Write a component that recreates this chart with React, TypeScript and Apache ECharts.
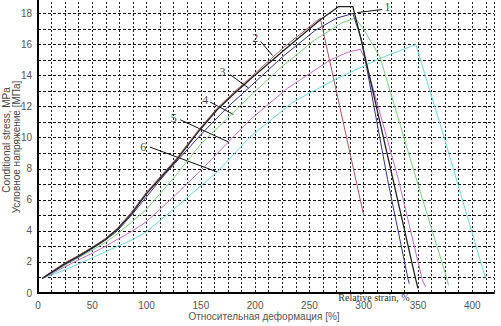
import React, { useEffect, useRef } from "react";
import * as echarts from "echarts";

// strain (%) , stress (MPa)
const curve1: number[][] = [[4,0.95],[15,1.45],[25,1.9],[38,2.4],[51,2.95],[62,3.45],[73,4.1],[86,5.1],[100,6.4],[114,7.5],[128,8.6],[149,10.5],[165,11.8],[180,12.8],[196,13.8],[226,15.6],[260,17.6],[277,18.45],[290,18.45],[297,16.5],[327,7.3],[348,0.84],[350,0.3]];
const curve2: number[][] = [[4,0.95],[15,1.5],[25,1.95],[38,2.45],[51,3.0],[62,3.5],[73,4.15],[86,5.2],[100,6.5],[114,7.6],[128,8.7],[149,10.6],[165,11.9],[180,12.9],[196,13.9],[226,15.8],[260,17.7],[300,5.0]];
const curve3: number[][] = [[4,0.95],[15,1.4],[25,1.85],[38,2.35],[51,2.9],[62,3.4],[73,4.0],[86,5.0],[100,6.2],[114,7.4],[128,8.5],[150,10.2],[175,12.0],[194,13.2],[225,15.2],[255,16.9],[275,17.7],[290,18.0],[298,16.3],[322,7.3],[341,0.84],[342,0.6]];
const curve4: number[][] = [[4,0.95],[15,1.38],[25,1.8],[38,2.3],[51,2.8],[62,3.25],[73,3.8],[86,4.55],[100,5.4],[125,7.4],[150,9.6],[178,11.5],[194,12.6],[225,14.6],[255,16.3],[280,17.4],[292,17.7],[299,17.1],[315,15.2],[343,8.6],[377,0.84],[378,0.5]];
const curve5: number[][] = [[4,0.95],[15,1.32],[25,1.7],[38,2.15],[51,2.6],[62,3.0],[73,3.45],[86,3.95],[100,4.6],[125,6.2],[150,7.9],[175,9.7],[196,11.2],[230,13.2],[269,15.0],[285,15.5],[297,15.7],[301,15.1],[332,7.3],[354,0.84],[357,0.4]];
const curve6: number[][] = [[4,0.95],[15,1.22],[25,1.5],[38,1.9],[51,2.3],[62,2.65],[73,3.0],[86,3.4],[100,3.95],[125,5.4],[150,6.9],[165,7.8],[196,10.1],[235,12.3],[272,13.7],[318,15.2],[348,16.0],[372,10.5],[412,1.0]];

const curves = [curve1, curve2, curve3, curve4, curve5, curve6];
const curveNames = ["1", "2", "3", "4", "5", "6"];
const curveColors = ["#222222", "#a85a5a", "#34347e", "#7ccf7c", "#c46cc8", "#6fd8d8"];

// annotation label positions [x, y, text] and leader lines
const labelPoints: (number | string)[][] = [[322,18.39,"1"],[200,16.45,"2"],[170,14.26,"3"],[154,12.45,"4"],[125,11.3,"5"],[97,9.4,"6"]];
const leaderStart: number[][] = [[317,18.26],[205,16.2],[177,14.06],[158.5,12.3],[131,11.16],[103,9.4]];
const leaderEnd: number[][] = [[294,18.06],[216,15.3],[194,13.2],[180,11.5],[175,9.74],[165,7.8]];

const xTicks = [0, 50, 100, 150, 200, 250, 300, 350, 400];
const yTicks = [0, 2, 4, 6, 8, 10, 12, 14, 16, 18];

export default function App() {
  const ref = useRef<HTMLDivElement>(null);
  useEffect(() => {
    if (!ref.current) return;
    const chart = echarts.init(ref.current, null, { renderer: "svg" });
    const series: any[] = curves.map((c, i) => ({
      type: "line",
      name: curveNames[i],
      data: c,
      showSymbol: false,
      symbol: "none",
      lineStyle: { color: curveColors[i], width: i === 0 ? 1.3 : 1 },
      z: 10 - i,
    }));
    series.push({
      type: "line",
      data: [],
      markLine: {
        silent: true,
        symbol: ["none", "none"],
        label: { show: false },
        lineStyle: { color: "#111", width: 1, type: "solid" },
        data: leaderStart.map((s, i) => [{ coord: s }, { coord: leaderEnd[i] }]),
      },
    });
    series.push({
      type: "scatter",
      data: labelPoints,
      symbolSize: 0,
      label: {
        show: true,
        position: "inside",
        formatter: (p: any) => p.data[2],
        color: "#111",
        fontFamily: "Liberation Serif",
        fontSize: 12,
      },
      z: 20,
    });
    chart.setOption({
      animation: false,
      backgroundColor: "#fff",
      grid: { left: 38, right: 7, top: -2, bottom: 33, containLabel: false, outerBoundsMode: "none" },
      xAxis: {
        type: "value",
        min: 0,
        max: 420,
        interval: 12.5,
        offset: 2,
        axisLine: { show: true, lineStyle: { color: "#000", width: 2 } },
        axisTick: { show: false },
        axisLabel: {
          margin: 5,
          fontSize: 10,
          fontFamily: "Liberation Sans",
          color: "#555",
          formatter: (v: number) => (xTicks.includes(v) ? String(v) : ""),
        },
        splitLine: { show: true, lineStyle: { color: "#222", type: [2, 2], width: 1 } },
      },
      yAxis: {
        type: "value",
        min: 0,
        max: 19,
        interval: 1,
        offset: 3,
        axisLine: { show: true, lineStyle: { color: "#000", width: 2 } },
        axisTick: { show: false },
        axisLabel: {
          margin: 3,
          fontSize: 10,
          fontFamily: "Liberation Sans",
          color: "#555",
          formatter: (v: number) => (yTicks.includes(v) ? String(v) : ""),
        },
        splitLine: { show: true, lineStyle: { color: "#111", type: [3, 2], width: 1 } },
      },
      graphic: [
        {
          type: "text",
          x: 6,
          y: 140,
          rotation: Math.PI / 2,
          style: {
            text: "Conditional stress, MPa",
            fontSize: 10,
            fontFamily: "Liberation Sans",
            fill: "#444",
            textAlign: "center",
            textVerticalAlign: "middle",
          },
        },
        {
          type: "text",
          x: 16,
          y: 147,
          rotation: Math.PI / 2,
          style: {
            text: "Условное напряжение [МПа]",
            fontSize: 10,
            fontFamily: "Liberation Sans",
            fill: "#444",
            textAlign: "center",
            textVerticalAlign: "middle",
          },
        },
        {
          type: "text",
          x: 264,
          y: 316,
          style: {
            text: "Относительная деформация [%]",
            fontSize: 10,
            fontFamily: "Liberation Sans",
            fill: "#555",
            textAlign: "center",
            textVerticalAlign: "middle",
          },
        },
        {
          type: "text",
          x: 374,
          y: 297,
          z: 50,
          style: {
            text: "Relative strain, %",
            fontSize: 10,
            fontFamily: "Liberation Serif",
            fill: "#333",
            textAlign: "center",
            textVerticalAlign: "middle",
          },
        },
      ],
      series,
    });
    return () => chart.dispose();
  }, []);
  return (
    <div
      ref={ref}
      style={{ position: "fixed", left: 0, top: 0, width: 501, height: 326, background: "#fff" }}
    />
  );
}
